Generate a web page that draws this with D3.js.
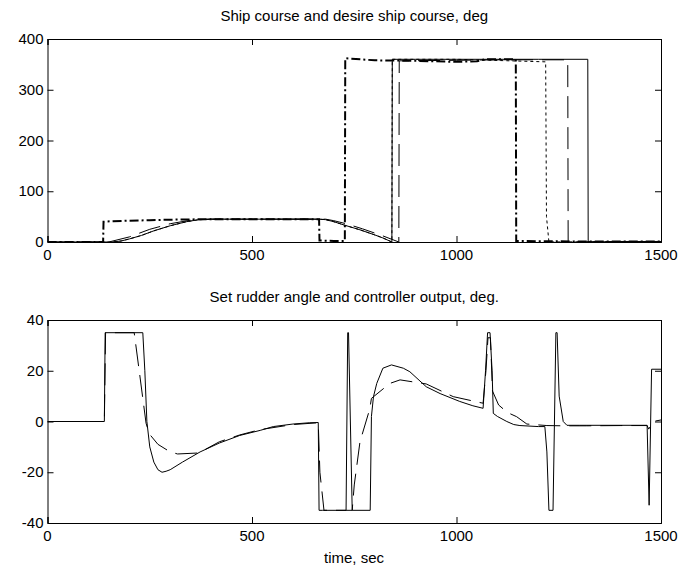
<!DOCTYPE html>
<html>
<head>
<meta charset="utf-8">
<script src="https://cdn.jsdelivr.net/npm/d3@7"></script>
<style>
    body { margin: 0; background: #fff; }
    svg { display: block; }
    text { font-family: "Liberation Sans", Arial, sans-serif; font-size: 15px; fill: #000; }
</style>
</head>
<body>
<svg id="chart" width="693" height="574"></svg>
<script>
// ---- tick labels ----
var timeTicks = [0, 500, 1000, 1500];
var courseTicks = [0, 100, 200, 300, 400];
var rudderTicks = [-40, -20, 0, 20, 40];

// ---- top plot: ship course / desired course (deg) ----
var desiredT = [0, 136, 137, 160, 200, 250, 300, 400, 500, 600, 664, 665, 700, 727, 728, 800, 900, 1000, 1050, 1070, 1100, 1145, 1146, 1300, 1500];
var desiredV = [0, 0, 40, 41, 42, 43, 44, 45, 45, 45, 45, 3, 2, 2, 362, 358, 357, 355, 356, 360, 360, 360, 2, 1, 1];

var courseT = [0, 160, 180, 200, 230, 260, 300, 340, 370, 400, 500, 600, 664, 680, 700, 727, 764, 800, 820, 842, 843, 900, 1000, 1100, 1200, 1321, 1322, 1400, 1500];
var courseV = [0, 0, 2, 6, 13, 22, 32, 40, 44, 45, 45, 45, 45, 44, 40, 33, 24, 14, 8, 0, 360, 360, 360, 360, 360, 360, 0, 1, 1];

var course2T = [0, 150, 200, 250, 300, 350, 400, 500, 600, 680, 700, 730, 770, 820, 859, 860, 1000, 1100, 1272, 1273, 1400, 1500];
var course2V = [0, 0, 10, 25, 36, 43, 45, 45, 45, 45, 42, 36, 26, 12, 0, 357, 358, 359, 359, 0, 1, 1];

var course3T = [0, 160, 180, 200, 230, 260, 300, 340, 370, 400, 500, 600, 664, 680, 700, 727, 764, 800, 820, 842, 843, 1000, 1218, 1220, 1226, 1400, 1500];
var course3V = [0, 0, 2, 6, 13, 22, 32, 40, 44, 45, 45, 45, 45, 44, 40, 33, 24, 14, 8, 0, 360, 360, 355, 50, 0, 1, 1];

// ---- bottom plot: set rudder angle / controller output (deg) ----
var rudderT = [0, 139, 141, 233, 238, 243, 250, 260, 270, 280, 290, 300, 330, 373, 420, 470, 520, 552, 600, 640, 662, 664, 672, 730, 734, 736, 745, 789, 792, 797, 805, 820, 841, 870, 886, 926, 960, 1008, 1040, 1065, 1071, 1076, 1082, 1087, 1090, 1100, 1123, 1140, 1155, 1200, 1216, 1221, 1226, 1236, 1243, 1246, 1251, 1261, 1270, 1300, 1400, 1466, 1471, 1477, 1500];
var rudderV = [0, 0, 35, 35, 20, 0, -10, -16, -19, -20, -19.6, -19, -16, -12, -8.5, -5.5, -3.5, -2, -1, -0.5, -0.4, -35, -35, -35, 35, 35, -35, -35, 2, 9.8, 15, 21, 22.3, 21, 19.6, 13.7, 11, 7.9, 6.2, 5.2, 20, 35, 35, 20, 3.2, 2, 0, -1.2, -1.6, -2, -2, -12, -35, -35, 35, 35, 10, 0, -1.5, -1.5, -1.5, -1.5, -33, 20.6, 20.6];

var outputT = [0, 139, 142, 212, 241, 249, 270, 299, 318, 370, 420, 470, 520, 600, 662, 666, 676, 745, 750, 764, 788, 792, 837, 862, 926, 992, 1065, 1072, 1077, 1083, 1088, 1103, 1125, 1147, 1172, 1221, 1261, 1318, 1400, 1466, 1470, 1480, 1500];
var outputV = [0, 0, 35, 35, -0.7, -4.9, -9, -11.9, -12.8, -12.4, -8, -5.3, -3.2, -1.2, -0.5, -20, -35, -35, -25, -8, 5, 9.1, 15, 16.4, 14.8, 9.8, 7.2, 20, 33, 33, 12, 6.5, 3.5, 1.9, -1, -1.6, -1.7, -1.7, -1.6, -1.6, -3, 0, 0.6];

// ---- titles ----
var topTitle = "Ship course and desire ship course, deg";
var bottomTitle = "Set rudder angle and controller output, deg.";
var xTitle = "time, sec";

var svg = d3.select("#chart");

function zip(ts, vs) {
    var pts = [];
    for (var i = 0; i < ts.length; i++) {
        pts.push({ t: ts[i], v: vs[i] });
    }
    return pts;
}

// draw one MATLAB style panel, returns the scales
function drawPanel(id, top, bottom, yDomain, yTicks, title, series) {
    var left = 47.5, right = 661;

    var x = d3.scaleLinear().domain([0, 1500]).range([left, right]);
    var y = d3.scaleLinear().domain(yDomain).range([bottom, top]);

    var g = svg.append("g").attr("id", id);

    g.append("clipPath").attr("id", id + "-clip")
        .append("rect")
        .attr("x", left).attr("y", top)
        .attr("width", right - left).attr("height", bottom - top);

    // lines
    var line = d3.line()
        .x(function (d) { return x(d.t); })
        .y(function (d) { return y(d.v); });

    var lines = g.append("g").attr("clip-path", "url(#" + id + "-clip)");
    series.forEach(function (s) {
        lines.append("path")
            .datum(zip(s.t, s.v))
            .attr("d", line)
            .attr("fill", "none")
            .attr("stroke", "#000")
            .attr("stroke-width", s.width)
            .attr("stroke-dasharray", s.dash)
            .attr("stroke-linejoin", "miter");
    });

    // axes, ticks inside on all four sides
    var tick = 6;
    g.append("g").attr("transform", "translate(0," + bottom + ")")
        .call(d3.axisTop(x).tickValues(timeTicks).tickSize(tick).tickFormat(""))
        .call(cleanAxis);
    g.append("g").attr("transform", "translate(0," + top + ")")
        .call(d3.axisBottom(x).tickValues(timeTicks).tickSize(tick).tickFormat(""))
        .call(cleanAxis);
    g.append("g").attr("transform", "translate(" + left + ",0)")
        .call(d3.axisRight(y).tickValues(yTicks).tickSize(tick).tickFormat(""))
        .call(cleanAxis);
    g.append("g").attr("transform", "translate(" + right + ",0)")
        .call(d3.axisLeft(y).tickValues(yTicks).tickSize(tick).tickFormat(""))
        .call(cleanAxis);

    // tick labels
    g.selectAll(".xlab")
        .data(timeTicks)
        .enter()
        .append("text")
        .attr("x", function (d) { return x(d); })
        .attr("y", bottom + 18)
        .attr("text-anchor", "middle")
        .text(function (d) { return d; });
    g.selectAll(".ylab")
        .data(yTicks)
        .enter()
        .append("text")
        .attr("x", left - 4)
        .attr("y", function (d) { return y(d) + 5; })
        .attr("text-anchor", "end")
        .text(function (d) { return d; });

    g.append("text")
        .attr("x", (left + right) / 2)
        .attr("y", top - 18)
        .attr("text-anchor", "middle")
        .text(title);

    return { x: x, y: y };
}

function cleanAxis(a) {
    a.select(".domain").attr("stroke", "#000").attr("stroke-width", 1);
    a.selectAll(".tick line").attr("stroke", "#000");
}

drawPanel("course", 39, 242, [0, 400], courseTicks, topTitle, [
    { t: course3T, v: course3V, width: 1, dash: "3,3" },
    { t: course2T, v: course2V, width: 1, dash: "22,9" },
    { t: courseT, v: courseV, width: 1, dash: null },
    { t: desiredT, v: desiredV, width: 2, dash: "9,3,2,3" }
]);

drawPanel("rudder", 320, 523, [-40, 40], rudderTicks, bottomTitle, [
    { t: outputT, v: outputV, width: 1, dash: "22,9" },
    { t: rudderT, v: rudderV, width: 1, dash: null }
]);

svg.append("text")
    .attr("x", 354)
    .attr("y", 563)
    .attr("text-anchor", "middle")
    .text(xTitle);
</script>
</body>
</html>
